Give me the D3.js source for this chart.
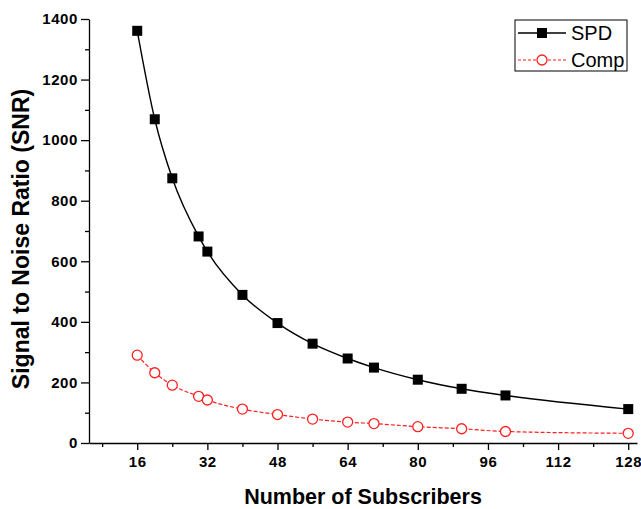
<!DOCTYPE html>
<html>
<head>
<meta charset="utf-8">
<script src="https://cdn.jsdelivr.net/npm/d3@7/dist/d3.min.js"></script>
<style>
  html, body { margin: 0; padding: 0; background: #fff; }
  svg { display: block; }
  .tick text { font-family: "Liberation Sans", Arial, sans-serif; font-weight: bold; font-size: 15px; letter-spacing: 0.6px; fill: #000; }
  .axis path, .axis line { stroke: #000; stroke-width: 1.3; }
</style>
</head>
<body>
<svg id="chart" width="641" height="509"></svg>
<script>
// Subscribers on the x axis and SNR for each scheme
const subscribers = [16, 20, 24, 30, 32, 40, 48, 56, 64, 70, 80, 90, 100, 128];
const spdValues  = [1361, 1069, 874, 682, 632, 489, 396, 328, 279, 249, 209, 179, 157, 112];
const compValues = [290, 232, 191, 154, 142, 112, 94, 79, 69, 64, 54, 47, 38, 32];
const xTicks = [16, 32, 48, 64, 80, 96, 112, 128];
const yTicks = [0, 200, 400, 600, 800, 1000, 1200, 1400];
const seriesNames = ["SPD", "Comp"];

const svg = d3.select("#chart");
const plotLeft = 89, plotRight = 637, plotTop = 19, plotBottom = 443;

const x = d3.scaleLinear().domain([5, 130]).range([plotLeft, plotRight]);
const y = d3.scaleLinear().domain([0, 1400]).range([plotBottom, plotTop]);

// minor ticks first so the major axis draws over them
const xMinor = d3.range(8, 130, 8).filter(v => xTicks.indexOf(v) < 0);
const yMinor = d3.range(100, 1400, 200);

svg.append("g").attr("class", "axis")
  .attr("transform", `translate(0,${plotBottom})`)
  .call(d3.axisBottom(x).tickValues(xMinor).tickSize(4).tickFormat(""))
  .select(".domain").remove();
svg.append("g").attr("class", "axis")
  .attr("transform", `translate(${plotLeft},0)`)
  .call(d3.axisLeft(y).tickValues(yMinor).tickSize(4).tickFormat(""))
  .select(".domain").remove();

svg.append("g").attr("class", "axis")
  .attr("transform", `translate(0,${plotBottom})`)
  .call(d3.axisBottom(x).tickValues(xTicks).tickSizeInner(7).tickSizeOuter(0).tickPadding(6).tickFormat(d3.format("d")));
svg.append("g").attr("class", "axis")
  .attr("transform", `translate(${plotLeft},0)`)
  .call(d3.axisLeft(y).tickValues(yTicks).tickSizeInner(8).tickSizeOuter(0).tickPadding(3).tickFormat(d3.format("d")));

// Axis titles
svg.append("text")
  .attr("x", (plotLeft + plotRight) / 2).attr("y", 504)
  .attr("text-anchor", "middle")
  .style("font-family", "Liberation Sans, Arial, sans-serif")
  .style("font-weight", "bold").style("font-size", "21.5px")
  .text("Number of Subscribers");
svg.append("text")
  .attr("transform", "translate(29,239) rotate(-90)")
  .attr("text-anchor", "middle")
  .style("font-family", "Liberation Sans, Arial, sans-serif")
  .style("font-weight", "bold").style("font-size", "23px")
  .text("Signal to Noise Ratio (SNR)");

const spd = subscribers.map((s, i) => [s, spdValues[i]]);
const comp = subscribers.map((s, i) => [s, compValues[i]]);

const line = d3.line().x(d => x(d[0])).y(d => y(d[1])).curve(d3.curveMonotoneX);

svg.append("path").datum(comp)
  .attr("d", line).attr("fill", "none")
  .attr("stroke", "#ff2020").attr("stroke-width", 1.2).attr("stroke-dasharray", "4,2");
svg.append("path").datum(spd)
  .attr("d", line).attr("fill", "none")
  .attr("stroke", "#000").attr("stroke-width", 1.4);

svg.append("g").selectAll("rect").data(spd).join("rect")
  .attr("x", d => x(d[0]) - 5).attr("y", d => y(d[1]) - 5)
  .attr("width", 10).attr("height", 10).attr("fill", "#000");

svg.append("g").selectAll("circle").data(comp).join("circle")
  .attr("cx", d => x(d[0])).attr("cy", d => y(d[1])).attr("r", 5)
  .attr("fill", "#fff").attr("stroke", "#ff2020").attr("stroke-width", 1.3);

// Legend
const lg = svg.append("g");
lg.append("rect").attr("x", 515).attr("y", 20).attr("width", 112).attr("height", 51)
  .attr("fill", "#fff").attr("stroke", "#000").attr("stroke-width", 1);
const rows = [33, 60];
lg.append("line").attr("x1", 518).attr("x2", 566).attr("y1", rows[0]).attr("y2", rows[0])
  .attr("stroke", "#000").attr("stroke-width", 1.4);
lg.append("rect").attr("x", 542 - 5).attr("y", rows[0] - 5).attr("width", 10).attr("height", 10).attr("fill", "#000");
lg.append("line").attr("x1", 518).attr("x2", 566).attr("y1", rows[1]).attr("y2", rows[1])
  .attr("stroke", "#ff2020").attr("stroke-width", 1.2).attr("stroke-dasharray", "3,2");
lg.append("circle").attr("cx", 542).attr("cy", rows[1]).attr("r", 5)
  .attr("fill", "#fff").attr("stroke", "#ff2020").attr("stroke-width", 1.3);
lg.selectAll("text.lbl").data(seriesNames).join("text").attr("class", "lbl")
  .attr("x", 571).attr("y", (d, i) => rows[i] + 7)
  .style("font-family", "Liberation Sans, Arial, sans-serif").style("font-size", "20px")
  .text(d => d);
</script>
</body>
</html>
